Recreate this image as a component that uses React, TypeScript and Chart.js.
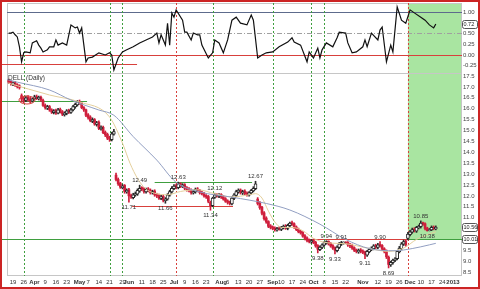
import { useEffect, useRef } from 'react';
import { Chart, registerables } from 'chart.js';

Chart.register(...registerables);

// ---- price data (daily candles, day index 0 = Mon Mar 19 2012, 5 slots per week) ----
const firstDay = -2;
const opens = [
  17.30, 17.25, 17.12, 17.20, 17.10, 17.05, 16.60, 16.48, 16.38, 16.52,
  16.45, 16.35, 16.45, 16.56, 16.46, 16.52, 16.38, 16.15, 16.02, 16.10,
  15.95, 15.82, 15.92, 15.80, 15.97, 15.86, 15.72, 15.78, 15.92, 15.83,
  15.95, 16.08, 16.18, 16.32, 16.25, 16.05, 15.95, 15.72, 15.62, 15.42,
  15.50, 15.28, 15.38, 15.08, 15.15, 14.92, 14.82, 14.68, 14.58, 14.83,
  12.95, 12.75, 12.58, 12.38, 12.48, 12.18, 12.28, 12.02, 11.92, 12.05,
  12.08, 12.22, 12.38, 12.32, 12.18, 12.32, 12.26, 12.13, 12.22, 12.06,
  12.02, 11.88, 11.98, 11.78, 11.85, 12.03, 12.18, 12.33, 12.48, 12.38,
  12.57, 12.43, 12.52, 12.37, 12.32, 12.26, 12.13, 12.18, 12.32, 12.26,
  12.17, 12.12, 12.02, 11.97, 11.70, 11.55, 11.93, 12.07, 11.98, 12.07,
  11.97, 11.87, 11.77, 11.72, 11.63, 11.88, 12.02, 12.18, 12.27, 12.13,
  12.22, 12.12, 12.03, 12.13, 12.23, 12.33, 11.85, 11.68, 11.48, 11.22,
  10.98, 10.82, 10.62, 10.57, 10.52, 10.43, 10.52, 10.46, 10.53, 10.62,
  10.50, 10.63, 10.77, 10.72, 10.57, 10.47, 10.37, 10.32, 10.17, 10.07,
  9.97, 9.88, 9.97, 9.87, 9.72, 9.53, 9.63, 9.73, 9.83, 9.92,
  9.82, 9.72, 9.62, 9.48, 9.63, 9.78, 9.83, 9.88, 9.87, 9.77,
  9.72, 9.62, 9.52, 9.43, 9.52, 9.47, 9.42, 9.28, 9.43, 9.53,
  9.58, 9.72, 9.63, 9.77, 9.72, 9.57, 9.47, 9.18, 8.83, 8.93,
  9.03, 9.12, 9.43, 9.58, 9.78, 9.92, 10.05, 10.22, 10.33, 10.47,
  10.38, 10.53, 10.58, 10.77, 10.72, 10.52, 10.40, 10.43, 10.57, 10.48,
];
const highs = [
  17.36, 17.30, 17.24, 17.26, 17.15, 17.10, 16.68, 16.55, 16.58, 16.60,
  16.52, 16.50, 16.62, 16.63, 16.58, 16.58, 16.44, 16.22, 16.16, 16.15,
  16.00, 15.96, 15.98, 16.02, 16.03, 15.92, 15.86, 15.96, 15.98, 16.02,
  16.16, 16.26, 16.38, 16.40, 16.30, 16.10, 15.98, 15.78, 15.68, 15.58,
  15.55, 15.42, 15.44, 15.22, 15.20, 14.98, 14.88, 14.74, 14.92, 15.05,
  13.05, 12.82, 12.62, 12.52, 12.52, 12.32, 12.34, 12.08, 12.12, 12.18,
  12.32, 12.49, 12.42, 12.38, 12.36, 12.38, 12.32, 12.26, 12.28, 12.12,
  12.08, 12.02, 12.04, 11.92, 12.10, 12.26, 12.42, 12.52, 12.54, 12.63,
  12.60, 12.56, 12.56, 12.42, 12.38, 12.32, 12.26, 12.36, 12.38, 12.30,
  12.22, 12.16, 12.06, 12.02, 11.76, 11.94, 12.12, 12.10, 12.10, 12.10,
  12.02, 11.92, 11.82, 11.76, 11.96, 12.10, 12.26, 12.32, 12.32, 12.26,
  12.28, 12.18, 12.20, 12.30, 12.42, 12.67, 11.92, 11.74, 11.52, 11.28,
  11.04, 10.86, 10.68, 10.62, 10.58, 10.56, 10.58, 10.60, 10.66, 10.68,
  10.70, 10.80, 10.84, 10.76, 10.62, 10.52, 10.42, 10.36, 10.22, 10.12,
  10.02, 10.00, 10.02, 9.92, 9.76, 9.70, 9.80, 9.90, 9.94, 9.93,
  9.86, 9.76, 9.66, 9.70, 9.86, 9.91, 9.89, 9.89, 9.90, 9.82,
  9.78, 9.66, 9.56, 9.56, 9.58, 9.52, 9.46, 9.50, 9.60, 9.66,
  9.76, 9.78, 9.82, 9.90, 9.76, 9.62, 9.52, 9.24, 9.00, 9.10,
  9.16, 9.50, 9.68, 9.86, 9.97, 9.96, 10.32, 10.42, 10.52, 10.54,
  10.60, 10.66, 10.85, 10.80, 10.76, 10.56, 10.50, 10.62, 10.62, 10.62,
];
const lows = [
  17.15, 17.08, 17.06, 17.02, 16.95, 16.90, 16.30, 16.28, 16.32, 16.35,
  16.28, 16.30, 16.40, 16.42, 16.40, 16.33, 16.10, 15.98, 15.96, 15.88,
  15.78, 15.76, 15.74, 15.76, 15.80, 15.68, 15.66, 15.72, 15.78, 15.78,
  15.90, 16.02, 16.12, 16.20, 16.00, 15.88, 15.64, 15.52, 15.40, 15.36,
  15.24, 15.20, 15.04, 15.02, 14.85, 14.72, 14.58, 14.50, 14.52, 14.78,
  12.68, 12.48, 12.34, 12.32, 12.12, 12.12, 11.71, 11.88, 11.86, 11.98,
  12.02, 12.16, 12.24, 12.12, 12.12, 12.18, 12.08, 12.08, 11.98, 11.92,
  11.84, 11.82, 11.72, 11.66, 11.80, 11.98, 12.12, 12.28, 12.32, 12.32,
  12.38, 12.38, 12.28, 12.22, 12.18, 12.08, 12.08, 12.12, 12.18, 12.08,
  12.04, 11.94, 11.88, 11.68, 11.34, 11.50, 11.88, 11.94, 11.92, 11.88,
  11.80, 11.70, 11.62, 11.58, 11.58, 11.82, 11.96, 12.12, 12.08, 12.06,
  12.04, 11.98, 11.98, 12.08, 12.18, 12.28, 11.58, 11.38, 11.12, 10.88,
  10.74, 10.54, 10.48, 10.44, 10.38, 10.38, 10.42, 10.40, 10.48, 10.46,
  10.44, 10.58, 10.64, 10.50, 10.40, 10.30, 10.24, 10.10, 9.98, 9.88,
  9.84, 9.82, 9.80, 9.64, 9.38, 9.48, 9.58, 9.68, 9.78, 9.74,
  9.64, 9.54, 9.33, 9.42, 9.58, 9.72, 9.78, 9.80, 9.68, 9.62,
  9.54, 9.44, 9.38, 9.36, 9.38, 9.34, 9.11, 9.22, 9.38, 9.48,
  9.52, 9.58, 9.58, 9.64, 9.48, 9.38, 9.12, 8.69, 8.76, 8.86,
  8.98, 9.06, 9.38, 9.52, 9.72, 9.68, 9.98, 10.16, 10.28, 10.34,
  10.32, 10.48, 10.52, 10.64, 10.44, 10.38, 10.39, 10.40, 10.44, 10.44,
];
const closes = [
  17.22, 17.15, 17.18, 17.08, 17.02, 16.98, 16.45, 16.38, 16.50, 16.42,
  16.35, 16.45, 16.55, 16.48, 16.52, 16.40, 16.15, 16.05, 16.10, 15.95,
  15.85, 15.90, 15.80, 15.95, 15.85, 15.75, 15.80, 15.90, 15.85, 15.95,
  16.10, 16.20, 16.30, 16.25, 16.05, 15.95, 15.70, 15.60, 15.45, 15.50,
  15.30, 15.35, 15.10, 15.15, 14.90, 14.80, 14.65, 14.60, 14.85, 14.95,
  12.75, 12.55, 12.40, 12.45, 12.20, 12.25, 12.00, 11.95, 12.05, 12.10,
  12.25, 12.35, 12.30, 12.20, 12.30, 12.25, 12.15, 12.20, 12.05, 12.00,
  11.90, 11.95, 11.80, 11.85, 12.05, 12.20, 12.35, 12.45, 12.40, 12.55,
  12.45, 12.50, 12.35, 12.30, 12.25, 12.15, 12.20, 12.30, 12.25, 12.15,
  12.10, 12.00, 11.95, 11.75, 11.55, 11.90, 12.05, 12.00, 12.05, 11.95,
  11.85, 11.75, 11.70, 11.65, 11.90, 12.05, 12.20, 12.25, 12.15, 12.20,
  12.10, 12.05, 12.15, 12.25, 12.35, 12.55, 11.65, 11.45, 11.20, 10.95,
  10.80, 10.60, 10.55, 10.50, 10.45, 10.50, 10.48, 10.55, 10.60, 10.52,
  10.65, 10.75, 10.70, 10.55, 10.45, 10.35, 10.30, 10.15, 10.05, 9.95,
  9.90, 9.95, 9.85, 9.70, 9.55, 9.65, 9.75, 9.85, 9.90, 9.80,
  9.70, 9.60, 9.50, 9.65, 9.80, 9.85, 9.87, 9.85, 9.75, 9.70,
  9.60, 9.50, 9.45, 9.50, 9.45, 9.40, 9.30, 9.45, 9.55, 9.60,
  9.70, 9.65, 9.75, 9.70, 9.55, 9.45, 9.20, 8.85, 8.95, 9.05,
  9.10, 9.45, 9.60, 9.80, 9.90, 9.75, 10.25, 10.35, 10.45, 10.40,
  10.55, 10.60, 10.75, 10.70, 10.50, 10.40, 10.45, 10.55, 10.50, 10.56,
];

// ---- moving averages ----
const slowMaDays = [-2.8, 2, 17, 27, 40, 47, 56, 67, 76, 87, 102, 118, 129, 143, 155, 166, 178, 186, 194, 197];
const slowMaValues = [17.34, 17.22, 16.86, 16.40, 15.94, 15.70, 14.72, 13.64, 12.62, 12.18, 11.94, 11.65, 11.35, 10.70, 10.00, 9.58, 9.48, 9.58, 9.75, 9.82];
const fastMaDays = [-2.3, 17, 31, 45, 51, 54.5, 58, 61.5, 66, 72, 78, 86, 94, 102, 110, 113, 116, 119, 122, 125, 130, 135, 140, 146, 155, 165, 175, 182, 188, 194, 197];
const fastMaValues = [17.18, 16.63, 16.31, 15.62, 14.42, 13.5, 12.8, 12.35, 12.12, 12.05, 12.2, 12.28, 12.1, 11.95, 12.05, 12.1, 11.9, 11.3, 10.8, 10.55, 10.55, 10.4, 10.05, 9.85, 9.8, 9.6, 9.45, 9.6, 10.0, 10.25, 10.35];

// ---- oscillator (top panel) ----
const oscDays = [-2, -1, 0, 1, 2, 3, 4, 5, 6, 8, 9, 11, 12, 13, 14, 16, 17, 19, 20, 21, 23, 25, 27, 29, 30, 31, 32, 34, 35, 37, 40, 43, 45, 46, 47, 49, 51, 53, 56, 59, 62, 65, 67, 68, 69, 71, 72, 73, 74, 75, 76, 79, 80, 81, 83, 84, 86, 87, 88, 91, 93, 94, 96, 98, 100, 102, 104, 106, 109, 111, 112, 114, 116, 118, 121, 124, 128, 130, 131, 134, 137, 138, 140, 142, 143, 144, 146, 149, 151, 152, 155, 156, 158, 160, 163, 164, 165, 167, 170, 171, 172, 174, 176, 177, 179, 181, 183, 185, 187, 190, 192, 194, 196, 197];
const oscValues = [0.51, 0.51, 0.53, 0.47, 0.42, 0.19, -0.16, 0.05, 0.07, 0.05, 0.28, 0.33, 0.23, 0.16, 0.07, 0.12, 0.19, 0.19, 0.35, 0.23, 0.28, 0.23, 0.70, 0.63, 0.65, 0.51, 0.63, -0.16, -0.07, -0.05, 0.05, 0.00, 0.05, 0.00, -0.35, -0.07, 0.07, 0.12, 0.19, 0.28, 0.35, 0.42, 0.51, 0.28, 0.47, 0.23, 0.74, 0.23, 0.98, 0.88, 1.05, 0.81, 0.53, 0.53, 0.35, 0.51, 0.47, 0.47, 0.23, -0.07, 0.05, 0.35, 0.28, 0.05, 0.35, 0.81, 0.88, 0.74, 0.70, 0.93, 0.81, -0.07, 0.00, 0.05, 0.07, 0.19, 0.30, 0.40, 0.30, 0.23, -0.16, 0.07, -0.07, 0.16, -0.07, 0.12, 0.28, 0.19, 0.40, 0.53, 0.51, 0.28, 0.05, 0.07, 0.19, 0.35, 0.19, 0.51, 0.35, 0.58, 0.65, -0.16, 0.23, 0.07, 1.12, 0.81, 0.74, 1.05, 0.98, 0.88, 0.81, 0.70, 0.63, 0.72];

// ---- annotations ----
const peakDays = [59, 77, 94, 113, 146, 153, 171, 190];
const peakPrices = [12.49, 12.63, 12.12, 12.67, 9.94, 9.91, 9.90, 10.85];
const troughDays = [54, 71, 92, 142, 150, 164, 175, 193];
const troughPrices = [11.71, 11.66, 11.34, 9.38, 9.33, 9.11, 8.69, 10.38];
const greenSignalDays = [5, 45, 51, 93, 121, 139, 145];
const redSignalDays = [76, 184];
const highlightFrom = 184;
const levelPrices = [16.35, 12.63, 11.55, 10.01, 10.01];
const levelFromDays = [-6, 66, 55.5, -6, 137];
const levelToDays = [34.5, 111.4, 102.5, 212, 184];
const levelKinds = ['green', 'green', 'red', 'green', 'red'];
const oscLevelValues = [1.0, 0.5, 0.0, -0.21];
const oscLevelToDays = [212, 212, 212, 57.8];
const markDay = 6.5;
const markPrice = 16.4;
const supportValue = 10.01;

// ---- axes ----
const xMin = -2.8;
const xMax = 209.2;
const tickDays = [0, 5, 10, 15, 20, 25, 31, 35, 40, 45, 51, 54, 60, 65, 70, 75, 80, 85, 90, 97, 100, 105, 110, 115, 121, 125, 130, 135, 140, 145, 150, 155, 163, 170, 175, 180, 185, 190, 195, 200, 205];
const tickLabels = ['19', '26', 'Apr', '9', '16', '23', 'May', '7', '14', '21', '29', 'Jun', '11', '18', '25', 'Jul', '9', '16', '23', 'Aug', '6', '13', '20', '27', 'Sep', '10', '17', '24', 'Oct', '8', '15', '22', 'Nov', '12', '19', '26', 'Dec', '10', '17', '24', '2013'];
const boldLabels = ['Apr', 'May', 'Jun', 'Jul', 'Aug', 'Sep', 'Oct', 'Nov', 'Dec', '2013'];
const priceTicks = [8.5, 9, 9.5, 11, 11.5, 12, 12.5, 13, 13.5, 14, 14.5, 15, 15.5, 16, 16.5, 17, 17.5];
const oscTicks = [-0.25, 0, 0.25, 0.5, 1.0];

const RED = '#cf1f3c';
const DARK = '#2a2a2a';
const GREEN_LINE = '#3f9f3f';
const RED_LINE = '#d8403c';

const zeroPad = (s: any) => {
  s.paddingTop = 0;
  s.paddingBottom = 0;
  s.paddingLeft = 0;
  s.paddingRight = 0;
};

const overlayPlugin = {
  id: 'overlay',
  beforeDatasetsDraw(chart: any) {
    const { ctx, chartArea: a, scales } = chart;
    const xs = scales.x, yo = scales.yOsc, ym = scales.yMain;
    const X = (d: number) => xs.getPixelForValue(d);
    ctx.save();
    const gx = X(highlightFrom);
    const gb = ym.getPixelForValue(supportValue);
    ctx.fillStyle = '#a9e5a1';
    ctx.fillRect(gx, a.top, a.right - gx, gb - a.top);
    ctx.strokeStyle = '#c6c6c6';
    ctx.lineWidth = 1;
    ctx.setLineDash([]);
    ctx.strokeRect(a.left + 0.5, yo.top + 0.5, a.right - a.left - 1, yo.bottom - yo.top);
    ctx.strokeRect(a.left + 0.5, ym.top + 0.5, a.right - a.left - 1, ym.bottom - ym.top - 1);
    const hline = (scale: any, v: number, from: number, to: number, color: string, dash: number[]) => {
      const y = Math.round(scale.getPixelForValue(v)) + 0.5;
      ctx.beginPath();
      ctx.setLineDash(dash);
      ctx.strokeStyle = color;
      ctx.lineWidth = 1;
      ctx.moveTo(Math.max(0, X(from)), y);
      ctx.lineTo(Math.min(a.right, X(to)), y);
      ctx.stroke();
    };
    hline(yo, oscLevelValues[0], xMin, oscLevelToDays[0], '#5d6b8c', []);
    hline(yo, oscLevelValues[1], xMin, oscLevelToDays[1], '#a0a0a0', [5, 2, 1, 2]);
    hline(yo, oscLevelValues[2], xMin, oscLevelToDays[2], RED_LINE, []);
    hline(yo, oscLevelValues[3], -6, oscLevelToDays[3], RED_LINE, []);
    levelPrices.forEach((p, i) => {
      hline(ym, p, levelFromDays[i], levelToDays[i], levelKinds[i] === 'green' ? GREEN_LINE : RED_LINE, []);
    });
    const vline = (d: number, color: string) => {
      const x = Math.round(X(d)) + 0.5;
      ctx.beginPath();
      ctx.setLineDash([2, 2]);
      ctx.strokeStyle = color;
      ctx.lineWidth = 1;
      ctx.moveTo(x, a.top);
      ctx.lineTo(x, a.bottom);
      ctx.stroke();
    };
    greenSignalDays.forEach((d) => vline(d, GREEN_LINE));
    redSignalDays.forEach((d) => vline(d, RED_LINE));
    ctx.restore();
  },
  afterDatasetsDraw(chart: any) {
    const { ctx, chartArea: a, scales } = chart;
    const xs = scales.x, ym = scales.yMain;
    ctx.save();
    ctx.font = '6px Arial';
    ctx.fillStyle = '#333';
    ctx.textAlign = 'center';
    ctx.textBaseline = 'bottom';
    peakDays.forEach((d, i) => {
      ctx.fillText(peakPrices[i].toFixed(2), xs.getPixelForValue(d), ym.getPixelForValue(peakPrices[i]) - 1.5);
    });
    ctx.textBaseline = 'top';
    troughDays.forEach((d, i) => {
      ctx.fillText(troughPrices[i].toFixed(2), xs.getPixelForValue(d), ym.getPixelForValue(troughPrices[i]) + 2);
    });
    ctx.beginPath();
    ctx.strokeStyle = RED_LINE;
    ctx.lineWidth = 1;
    ctx.ellipse(xs.getPixelForValue(markDay), ym.getPixelForValue(markPrice), 8, 4, 0, 0, Math.PI * 2);
    ctx.stroke();
    ctx.textAlign = 'left';
    ctx.textBaseline = 'top';
    ctx.font = '6.5px Arial';
    ctx.fillStyle = '#333';
    ctx.fillText('DELL (Daily)', a.left + 1, ym.top + 1.5);
    ctx.restore();
  },
  afterDraw(chart: any) {
    const { ctx, chartArea: a, scales } = chart;
    const box = (scale: any, v: number, text: string) => {
      const y = scale.getPixelForValue(v);
      const x0 = a.right + 0.5;
      ctx.beginPath();
      ctx.fillStyle = '#fff';
      ctx.strokeStyle = '#555';
      ctx.lineWidth = 1;
      ctx.roundRect(x0, Math.round(y - 4) + 0.5, 15, 8, 2);
      ctx.fill();
      ctx.stroke();
      ctx.fillStyle = '#222';
      ctx.font = '5.5px Arial';
      ctx.textAlign = 'left';
      ctx.textBaseline = 'middle';
      ctx.fillText(text, x0 + 1, y + 0.5);
    };
    ctx.save();
    box(scales.yOsc, oscValues[oscValues.length - 1], oscValues[oscValues.length - 1].toFixed(2));
    box(scales.yMain, closes[closes.length - 1], closes[closes.length - 1].toFixed(2));
    box(scales.yMain, supportValue, supportValue.toFixed(2));
    ctx.restore();
  },
};

export default function App() {
  const ref = useRef<HTMLCanvasElement | null>(null);
  useEffect(() => {
    if (!ref.current) return;
    const idx = closes.map((_, k) => k);
    const upIdx = idx.filter((k) => closes[k] >= opens[k]);
    const downIdx = idx.filter((k) => closes[k] < opens[k]);
    const day = (k: number) => firstDay + k;
    const chart = new Chart(ref.current, {
      type: 'bar',
      data: {
        datasets: [
          {
            type: 'line',
            label: 'Oscillator',
            data: oscDays.map((d, i) => ({ x: d, y: oscValues[i] })),
            borderColor: '#111',
            borderWidth: 1.2,
            pointRadius: 0,
            tension: 0,
            yAxisID: 'yOsc',
            order: 0,
          },
          {
            type: 'line',
            label: 'Slow MA',
            data: slowMaDays.map((d, i) => ({ x: d, y: slowMaValues[i] })),
            borderColor: '#929fc2',
            borderWidth: 1,
            pointRadius: 0,
            cubicInterpolationMode: 'monotone',
            yAxisID: 'yMain',
            order: 1,
          },
          {
            type: 'line',
            label: 'Fast MA',
            data: fastMaDays.map((d, i) => ({ x: d, y: fastMaValues[i] })),
            borderColor: '#e4cf9c',
            borderWidth: 1,
            pointRadius: 0,
            cubicInterpolationMode: 'monotone',
            yAxisID: 'yMain',
            order: 1,
          },
          {
            type: 'bar',
            label: 'Up body',
            data: upIdx.map((k) => ({ x: day(k), y: [opens[k], closes[k]] })),
            backgroundColor: '#ffffff',
            borderColor: DARK,
            borderWidth: 1,
            borderSkipped: false,
            barThickness: 3,
            grouped: false,
            yAxisID: 'yMain',
            order: 2,
          },
          {
            type: 'bar',
            label: 'Down body',
            data: downIdx.map((k) => ({ x: day(k), y: [opens[k], closes[k]] })),
            backgroundColor: RED,
            borderWidth: 0,
            barThickness: 2,
            grouped: false,
            yAxisID: 'yMain',
            order: 2,
          },
          {
            type: 'bar',
            label: 'Up wick',
            data: upIdx.map((k) => ({ x: day(k), y: [lows[k], highs[k]] })),
            backgroundColor: DARK,
            borderWidth: 0,
            barThickness: 1,
            grouped: false,
            yAxisID: 'yMain',
            order: 3,
          },
          {
            type: 'bar',
            label: 'Down wick',
            data: downIdx.map((k) => ({ x: day(k), y: [lows[k], highs[k]] })),
            backgroundColor: RED,
            borderWidth: 0,
            barThickness: 1,
            grouped: false,
            yAxisID: 'yMain',
            order: 3,
          },
        ] as any,
      },
      options: {
        animation: false,
        responsive: false,
        layout: { padding: { left: 5, top: 1, right: 0, bottom: 0 } },
        plugins: { legend: { display: false }, tooltip: { enabled: false } },
        scales: {
          x: {
            type: 'linear',
            min: xMin,
            max: xMax,
            offset: false,
            grid: { display: false, drawTicks: false },
            border: { display: false },
            afterBuildTicks: (s: any) => {
              s.ticks = tickDays.map((v) => ({ value: v }));
            },
            afterFit: (s: any) => {
              s.height = 11;
              zeroPad(s);
            },
            ticks: {
              autoSkip: false,
              maxRotation: 0,
              padding: 3,
              color: '#333',
              callback: (_v: any, i: number) => tickLabels[i],
              font: (c: any) => ({
                family: 'Arial',
                size: 6,
                weight: boldLabels.includes(tickLabels[c.index]) ? 'bold' : 'normal',
              }),
            },
          },
          yOsc: {
            type: 'linear',
            position: 'right',
            stack: 'panels',
            stackWeight: 70,
            min: -0.42,
            max: 1.21,
            grid: { display: false, drawTicks: false },
            border: { display: false },
            afterBuildTicks: (s: any) => {
              s.ticks = oscTicks.map((v) => ({ value: v }));
            },
            afterFit: (s: any) => {
              s.width = 16;
              zeroPad(s);
            },
            ticks: {
              autoSkip: false,
              padding: 1,
              color: '#444',
              font: { family: 'Arial', size: 6 },
              callback: (v: any) => Number(v).toFixed(2),
            },
          },
          yMain: {
            type: 'linear',
            position: 'right',
            stack: 'panels',
            stackWeight: 203,
            min: 8.32,
            max: 17.64,
            grid: { display: false, drawTicks: false },
            border: { display: false },
            afterBuildTicks: (s: any) => {
              s.ticks = priceTicks.map((v) => ({ value: v }));
            },
            afterFit: (s: any) => {
              s.width = 16;
              zeroPad(s);
            },
            ticks: {
              autoSkip: false,
              padding: 1,
              color: '#444',
              font: { family: 'Arial', size: 6 },
              callback: (v: any) => Number(v).toFixed(1),
            },
          },
        },
      } as any,
      plugins: [overlayPlugin],
    });
    return () => chart.destroy();
  }, []);

  return (
    <div
      style={{
        position: 'fixed',
        left: 0,
        top: 0,
        width: 480,
        height: 289,
        boxSizing: 'border-box',
        border: '2px solid #cc2424',
        background: '#ffffff',
      }}
    >
      <canvas ref={ref} width={476} height={285} style={{ display: 'block' }} />
    </div>
  );
}
